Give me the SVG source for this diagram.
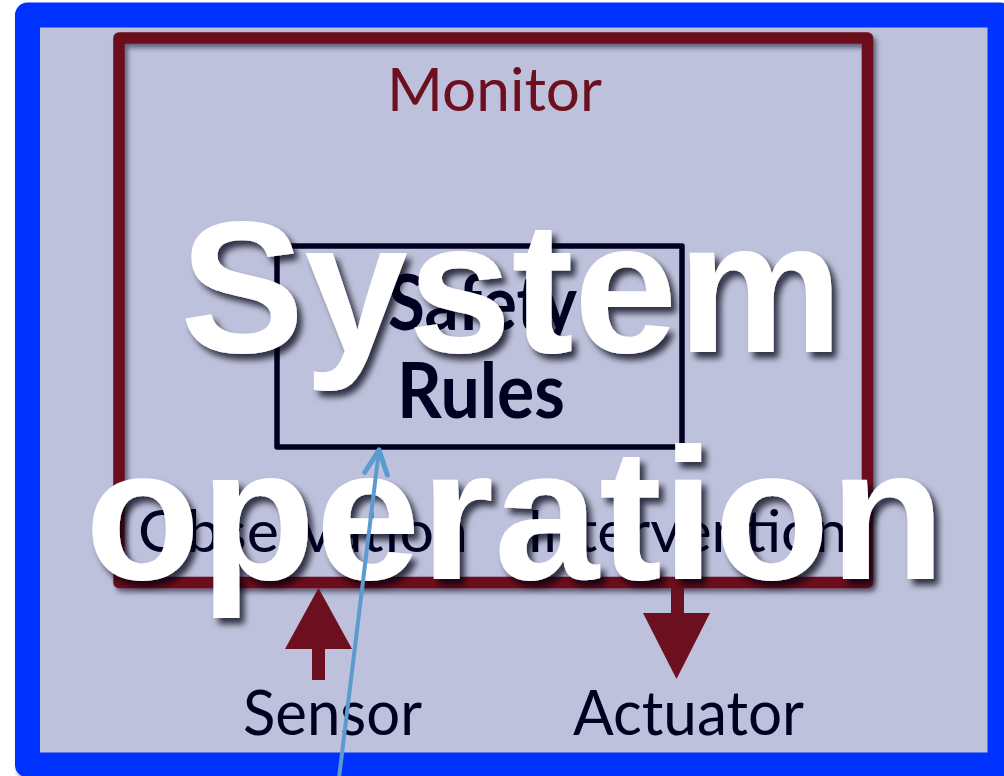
<svg xmlns="http://www.w3.org/2000/svg" width="1004" height="776" viewBox="0 0 1004 776">
<style>
.lbl{font-family:Lato,"Open Sans","Liberation Sans",sans-serif;fill:#000022;text-anchor:middle}
.bold{font-weight:bold}
.big{font-family:"Liberation Sans",Arial,sans-serif;font-weight:bold;font-size:188px;fill:#ffffff;text-anchor:middle}
.red{fill:#6C0F1E}
</style>
<defs>
<filter id="sh" x="-10%" y="-10%" width="130%" height="130%">
<feDropShadow dx="3" dy="4" stdDeviation="2.5" flood-color="#000022" flood-opacity="0.5"/>
</filter>
<filter id="bigsh" x="-10%" y="-20%" width="130%" height="150%">
<feDropShadow dx="5" dy="6" stdDeviation="3" flood-color="#000011" flood-opacity="0.75"/>
</filter>
<marker id="open" markerUnits="userSpaceOnUse" markerWidth="34" markerHeight="34" viewBox="-26 -14 30 28" refX="0" refY="0" orient="auto">
<path d="M-21,-10 L0,0 L-21,10" fill="none" stroke="#5B9BD0" stroke-width="4.5" stroke-linecap="round" stroke-linejoin="round"/>
</marker>
</defs>
<rect width="1004" height="776" fill="#ffffff"/>
<g id="frame">
<rect x="27.5" y="15" width="972.5" height="750" fill="#BDC1DB" stroke="#0033FF" stroke-width="25" stroke-linejoin="round" filter="url(#sh)"/>
</g>
<g id="monitor">
<rect x="119" y="38" width="748.5" height="544.5" fill="none" stroke="#6C0F1E" stroke-width="11.5" stroke-linejoin="round" filter="url(#sh)"/>
<text class="lbl" x="494.5" y="111" font-size="60" style="fill:#6C0F1E" textLength="215" lengthAdjust="spacingAndGlyphs">Monitor</text>
<text class="lbl" x="303" y="552" font-size="58" textLength="330" lengthAdjust="spacingAndGlyphs">Observation</text>
<text class="lbl" x="687.5" y="552" font-size="58" textLength="321" lengthAdjust="spacingAndGlyphs">Intervention</text>
</g>
<g id="safety-rules">
<rect x="277" y="246" width="405" height="201" fill="none" stroke="#000022" stroke-width="5.5" stroke-linejoin="round"/>
<text class="lbl bold" x="482.5" y="330" font-size="76" textLength="189" lengthAdjust="spacingAndGlyphs">Safety</text>
<text class="lbl bold" x="481" y="418" font-size="76" textLength="168" lengthAdjust="spacingAndGlyphs">Rules</text>
</g>
<g id="sensor">
<text class="lbl" x="332.5" y="735" font-size="62" textLength="179" lengthAdjust="spacingAndGlyphs">Sensor</text>
</g>
<g id="actuator">
<text class="lbl" x="688.5" y="735" font-size="62" textLength="231" lengthAdjust="spacingAndGlyphs">Actuator</text>
</g>
<g id="connectors-red">
<rect class="red" x="312" y="645" width="13" height="35"/>
<polygon class="red" points="285,649 352,649 318.5,588"/>
<rect class="red" x="671" y="586" width="13" height="30"/>
<polygon class="red" points="643,613 710,613 676.5,679"/>
</g>
<g id="title" filter="url(#bigsh)">
<text class="big" x="511.5" y="352" textLength="663" lengthAdjust="spacingAndGlyphs">System</text>
<text class="big" x="515" y="579" textLength="860" lengthAdjust="spacingAndGlyphs">operation</text>
</g>
<g id="connectors">
<line x1="339" y1="778" x2="379" y2="450" stroke="#5B9BD0" stroke-width="4" stroke-linecap="round" marker-end="url(#open)"/>
</g>
</svg>
